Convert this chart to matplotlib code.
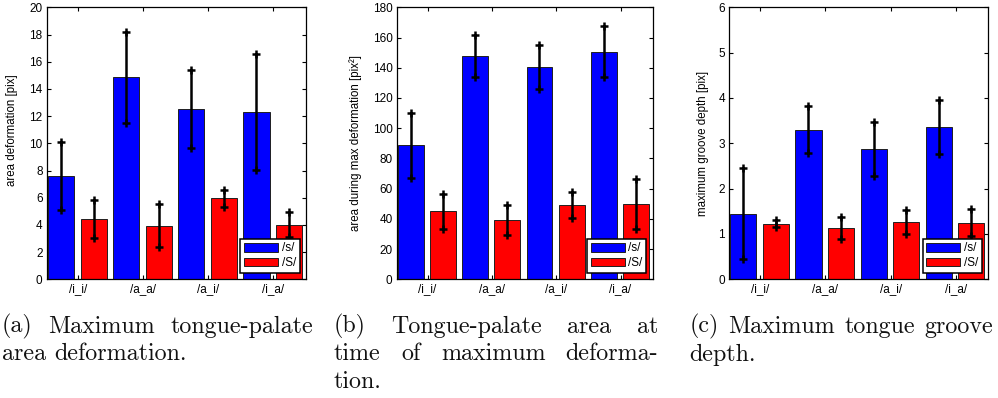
import numpy as np
import matplotlib
matplotlib.use("Agg")
import matplotlib.pyplot as plt

plt.rcParams["font.family"] = ["Liberation Sans", "DejaVu Sans"]

# ---- data -------------------------------------------------------------
contexts = ["/i_i/", "/a_a/", "/a_i/", "/i_a/"]
series_names = ["/s/", "/S/"]

area_def_s = [7.61, 14.84, 12.55, 12.27]
area_def_s_err = [2.51, 3.37, 2.87, 4.26]
area_def_sh = [4.42, 3.95, 5.96, 4.01]
area_def_sh_err = [1.41, 1.60, 0.62, 0.92]

area_max_s = [88.7, 148.0, 140.7, 150.7]
area_max_s_err = [21.5, 13.8, 14.5, 16.6]
area_max_sh = [45.0, 39.3, 49.4, 49.9]
area_max_sh_err = [11.4, 9.9, 8.7, 16.3]

groove_s = [1.45, 3.30, 2.87, 3.36]
groove_s_err = [1.01, 0.52, 0.59, 0.59]
groove_sh = [1.23, 1.125, 1.26, 1.25]
groove_sh_err = [0.08, 0.24, 0.27, 0.30]

ylabels = ["area deformation [pix]",
           "area during max deformation [pix\u00b2]",
           "maximum groove depth [pix]"]
yticks = [np.arange(0, 21, 2), np.arange(0, 181, 20), np.arange(0, 7, 1)]
ylims = [(0, 20), (0, 180), (0, 6)]

captions = [
    [["(a)", "Maximum", "tongue-palate"], ["area", "deformation."]],
    [["(b)", "Tongue-palate", "area", "at"],
     ["time", "of", "maximum", "deforma-"], ["tion."]],
    [["(c)", "Maximum", "tongue", "groove"], ["depth."]],
]

# ---- layout (pixels) --------------------------------------------------
W, H = 998, 398
fig = plt.figure(figsize=(W / 100, H / 100), dpi=100)

axes_px = [(46.7, 259.3), (396.7, 256.0), (729.0, 259.3)]
ax_top, ax_bot = 7.3, 279.3
label_y_px = [130, 143, 143]
label_x_off = [29, 35, 20]

panels = [
    (area_def_s, area_def_s_err, area_def_sh, area_def_sh_err),
    (area_max_s, area_max_s_err, area_max_sh, area_max_sh_err),
    (groove_s, groove_s_err, groove_sh, groove_sh_err),
]

x = np.arange(1, len(contexts) + 1)
bw = 0.40
offs = (-0.26, 0.24)
colors = ("#0000ff", "#ff0000")

for i, (s, se, sh, she) in enumerate(panels):
    left, width = axes_px[i]
    ax = fig.add_axes([left / W, (H - ax_bot) / H, width / W,
                       (ax_bot - ax_top) / H])
    for k, (vals, errs) in enumerate(((s, se), (sh, she))):
        xs = x + offs[k]
        ax.bar(xs, vals, width=bw, color=colors[k], edgecolor="#202020",
               linewidth=0.7, label=series_names[k], zorder=2)
        ax.errorbar(xs, vals, yerr=errs, fmt="none", ecolor="k",
                    elinewidth=1.8, capsize=0, zorder=3)
        v = np.asarray(vals)
        e = np.asarray(errs)
        ax.plot(np.r_[xs, xs], np.r_[v + e, v - e], "+", color="k",
                ms=5.5, mew=1.8, zorder=4)
    ax.set_xlim(0.52, 4.5)
    ax.set_ylim(*ylims[i])
    ax.set_xticks(x)
    ax.set_xticklabels(contexts)
    ax.set_yticks(yticks[i])
    ax.tick_params(direction="in", top=True, right=True, length=3,
                   width=0.8, labelsize=8.5, pad=3)
    for sp in ax.spines.values():
        sp.set_linewidth(0.9)
    ax.set_ylabel(ylabels[i], fontsize=8.3)
    ax.yaxis.set_label_coords(-label_x_off[i] / width,
                              (ax_bot - label_y_px[i]) / (ax_bot - ax_top))
    leg = ax.legend(loc="lower right", fontsize=8.5, handlelength=2.9,
                    handleheight=0.75, handletextpad=0.3, labelspacing=0.25,
                    borderpad=0.3, borderaxespad=0.55, fancybox=False,
                    framealpha=1)
    leg.get_frame().set_edgecolor("k")
    leg.get_frame().set_linewidth(1.1)
    leg.set_zorder(10)

# ---- captions (justified, serif) --------------------------------------
cap_font = dict(family="cmr10", size=17.3, color="#111111")
cap_cols = [(2, 313), (334, 658.3), (689.3, 993.3)]
baselines = [332.7, 360.5, 388.5]
space_px = 8.0

fig.canvas.draw()
renderer = fig.canvas.get_renderer()

for (x0, x1), lines in zip(cap_cols, captions):
    for li, words in enumerate(lines):
        yb = 1 - baselines[li] / H
        texts = [fig.text(x0 / W, yb, w, ha="left", va="baseline", **cap_font)
                 for w in words]
        widths = [t.get_window_extent(renderer).width for t in texts]
        if li == len(lines) - 1 or len(words) == 1:
            gap = space_px
        else:
            gap = (x1 - x0 - sum(widths)) / (len(words) - 1)
        cur = x0
        for t, w in zip(texts, widths):
            t.set_x(cur / W)
            cur += w + gap

fig.savefig("out.png", dpi=100)
